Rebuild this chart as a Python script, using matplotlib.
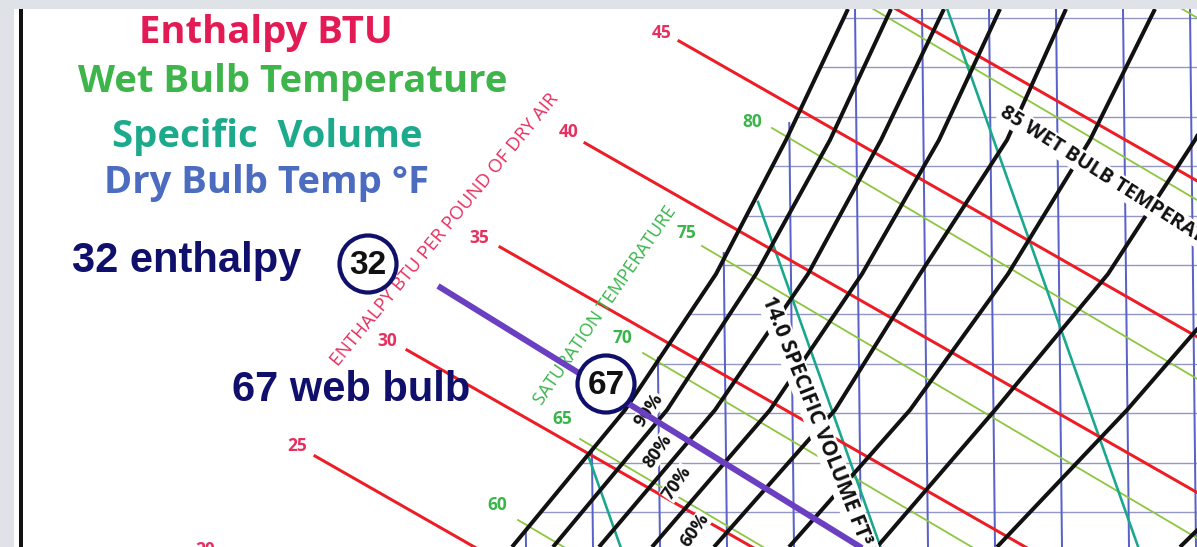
import numpy as np
import matplotlib.pyplot as plt
from matplotlib.patches import Circle

W, H = 1197, 547          # output size in pixels
TOP, LEFT = 9, 14         # grey margin above / left of the chart

# ---------------- values ----------------
# relative humidity curves: x position of each curve at these heights
rh_levels_y = [9, 140, 274, 410, 547]
rh_100 = [848, 786, 716, 625, 512]
rh_90 = [891, 830, 756, 667, 553]
rh_80 = [944, 881, 808, 715, 599]
rh_70 = [1000, 939, 862, 770, 652]
rh_60 = [1066, 1007, 920, 835, 714]
rh_50 = [1155, 1090, 1008, 910, 789]
rh_40 = [1264, 1195, 1108, 995, 877]
rh_30 = [1400, 1330, 1245, 1127, 997]
rh_20 = [1600, 1530, 1440, 1320, 1180]
rh_labels = ["90%", "80%", "70%", "60%"]
rh_label_x = [649, 658, 677, 695]
rh_label_y = [410, 451, 483, 530]

# enthalpy lines (BTU per lb dry air), where each starts, and its label
enthalpy_btu = [20, 25, 30, 35, 40, 45, 50]
enthalpy_x0 = [224, 315, 407, 500, 585, 679, 770]
enthalpy_y0 = [560, 456, 350, 247, 143, 41, -63]
enthalpy_lab_x = [205, 297, 387, 479, 569, 662, None]
enthalpy_lab_y = [550, 446, 341, 238, 132, 33, None]

# wet bulb lines (deg F), where each starts, and its label
wet_bulb_f = [60, 65, 70, 75, 80, 85, 90]
wet_bulb_x0 = [518, 580, 643, 702, 772, 858, 1167]
wet_bulb_y0 = [520, 439, 353, 246, 128, 0, 0]
wet_bulb_lab_x = [497, 562, 622, 686, 752, None, None]
wet_bulb_lab_y = [505, 419, 338, 233, 122, None, None]

# specific volume lines (ft3/lb)
spec_volume = [13.5, 14.0, 14.5]
spec_x0 = [589, 758, 944]
spec_y0 = [458, 202, 0]

# dry bulb grid (deg F) and humidity grid (grains)
dry_bulb_f = [60, 65, 70, 75, 80, 85, 90, 95, 100, 105, 110]
grains = [90, 100, 110, 120, 130, 140, 150, 160, 170, 180, 190]

# ---------------- geometry / style ----------------
ENTH_SLOPE = 0.571
WB_SLOPE = 0.59
SV_DXDY = 0.355
PX = 0.72  # points per pixel at dpi 100

RED = "#ee1c25"
RED_TXT = "#e6305f"
GREEN = "#8dc63f"
GREEN_TXT = "#39b54a"
TEAL = "#19a88e"
BLUE_V = "#5a62c8"
BLUE_H = "#9297c6"
NAVY = "#10106c"
PURPLE = "#6a3fc2"
SANS = "Open Sans"


def db_x(t, y):
    # dry bulb lines lean a little to the left towards the top
    return 526 + (t - 60) / 5 * 67 - 6 * (547 - y) / 538


def gr_y(g):
    return 512 - (g - 90) * 4.94


fig = plt.figure(figsize=(W / 100, H / 100), dpi=100, facecolor="#dfe3e8")
ax = fig.add_axes([LEFT / W, 0, (W - LEFT) / W, (H - TOP) / H])
ax.set_xlim(LEFT, W)
ax.set_ylim(H, TOP)
ax.set_facecolor("white")
ax.set_xticks([])
ax.set_yticks([])
for s in ax.spines.values():
    s.set_visible(False)

sat_x = np.array(rh_100)
sat_y = np.array(rh_levels_y)

# humidity ratio grid (horizontal)
for g in grains:
    y = gr_y(g)
    x0 = np.interp(y, sat_y, sat_x)
    ax.plot([x0, W + 5], [y, y], color=BLUE_H, lw=1.4 * PX, zorder=1)

# dry bulb grid (vertical)
for t in dry_bulb_f:
    y0 = np.interp(db_x(t, 547), sat_x[::-1], sat_y[::-1])
    y0 = max(y0, 0)
    ax.plot([db_x(t, y0), db_x(t, 550)], [y0, 550], color=BLUE_V, lw=2 * PX, zorder=1)

# wet bulb lines
for t, x0, y0, lx, ly in zip(wet_bulb_f, wet_bulb_x0, wet_bulb_y0, wet_bulb_lab_x, wet_bulb_lab_y):
    ax.plot([x0, x0 + 700], [y0, y0 + WB_SLOPE * 700], color=GREEN, lw=1.8 * PX, zorder=2)
    if lx is not None:
        ax.text(lx, ly, str(t), color=GREEN_TXT, fontsize=12.5, fontfamily=SANS,
                fontweight="bold", ha="center", va="center")

# specific volume lines
for v, x0, y0 in zip(spec_volume, spec_x0, spec_y0):
    ax.plot([x0, x0 + SV_DXDY * 700], [y0, y0 + 700], color=TEAL, lw=2.6 * PX, zorder=3)

# enthalpy lines
for h, x0, y0, lx, ly in zip(enthalpy_btu, enthalpy_x0, enthalpy_y0, enthalpy_lab_x, enthalpy_lab_y):
    ax.plot([x0, x0 + 900], [y0, y0 + ENTH_SLOPE * 900], color=RED, lw=3 * PX, zorder=4)
    if lx is not None:
        ax.text(lx, ly, str(h), color=RED_TXT, fontsize=12.5, fontfamily=SANS,
                fontweight="bold", ha="center", va="center")

# relative humidity curves
for xs in [rh_100, rh_90, rh_80, rh_70, rh_60, rh_50, rh_40, rh_30, rh_20]:
    ax.plot(xs, rh_levels_y, color="#111111", lw=4 * PX, zorder=5,
            solid_capstyle="butt")

# labels that break the lines
box = dict(facecolor="white", edgecolor="none", pad=1.0)
ax.text(1002, 111, "85 WET BULB TEMPERATURE", rotation=-32.5, rotation_mode="anchor",
        ha="left", va="center", fontsize=14.5, fontfamily=SANS, fontweight="bold",
        color="#111111", bbox=box, zorder=6, clip_on=True)
ax.text(767, 297, "14.0 SPECIFIC VOLUME FT³/LB", rotation=-68.3, rotation_mode="anchor",
        ha="left", va="center", fontsize=15, fontfamily=SANS, fontweight="bold",
        color="#111111", bbox=box, zorder=6, clip_on=True)
for lab, x, y in zip(rh_labels, rh_label_x, rh_label_y):
    ax.text(x, y, lab, rotation=55, rotation_mode="anchor", ha="center", va="center",
            fontsize=13, fontfamily=SANS, fontweight="bold", color="#111111",
            bbox=dict(facecolor="white", edgecolor="none", pad=0.2), zorder=6)

ax.text(445, 230, "ENTHALPY BTU PER POUND OF DRY AIR", rotation=50.5, rotation_mode="anchor",
        ha="center", va="center", fontsize=13.5, fontfamily=SANS, color=RED_TXT, zorder=6)
ax.text(605, 306, "SATURATION TEMPERATURE", rotation=55.4, rotation_mode="anchor",
        ha="center", va="center", fontsize=13, fontfamily=SANS, color=GREEN_TXT, zorder=6)

# the worked example: 32 enthalpy line through 67 wet bulb
ax.plot([438, 900], [286, 286 + 0.618 * 462], color=PURPLE, lw=6 * PX, zorder=7,
        solid_capstyle="butt")
for (cx, cy), lab in [((368, 264), "32"), ((606, 384), "67")]:
    ax.add_patch(Circle((cx, cy), 28.5, facecolor="white", edgecolor=NAVY, lw=4.2 * PX, zorder=8))
    ax.text(cx, cy + 1, lab, ha="center", va="center", fontsize=24, fontweight="bold",
            fontfamily="Liberation Sans", color="#111111", zorder=9)

ax.text(187, 272, "32 enthalpy", ha="center", va="baseline", fontsize=30, fontweight="bold",
        fontfamily="Liberation Sans", color=NAVY, zorder=9)
ax.text(351, 401, "67 web bulb", ha="center", va="baseline", fontsize=30, fontweight="bold",
        fontfamily="Liberation Sans", color=NAVY, zorder=9)

# legend-like headings
heads = [("Enthalpy BTU", "#e31b54", 266, 43),
         ("Wet Bulb Temperature", "#3db54a", 293, 92),
         ("Specific  Volume", "#1daa8c", 267, 147),
         ("Dry Bulb Temp °F", "#4c6cc0", 267, 193)]
for txt, col, x, y in heads:
    ax.text(x, y, txt, ha="center", va="baseline", fontsize=27.5, fontfamily=SANS,
            fontweight="bold", color=col, zorder=9)

# black border line on the left
ax.plot([21, 21], [0, 560], color="#111111", lw=4 * PX, zorder=9)

fig.savefig("out.png", dpi=100, facecolor=fig.get_facecolor())
